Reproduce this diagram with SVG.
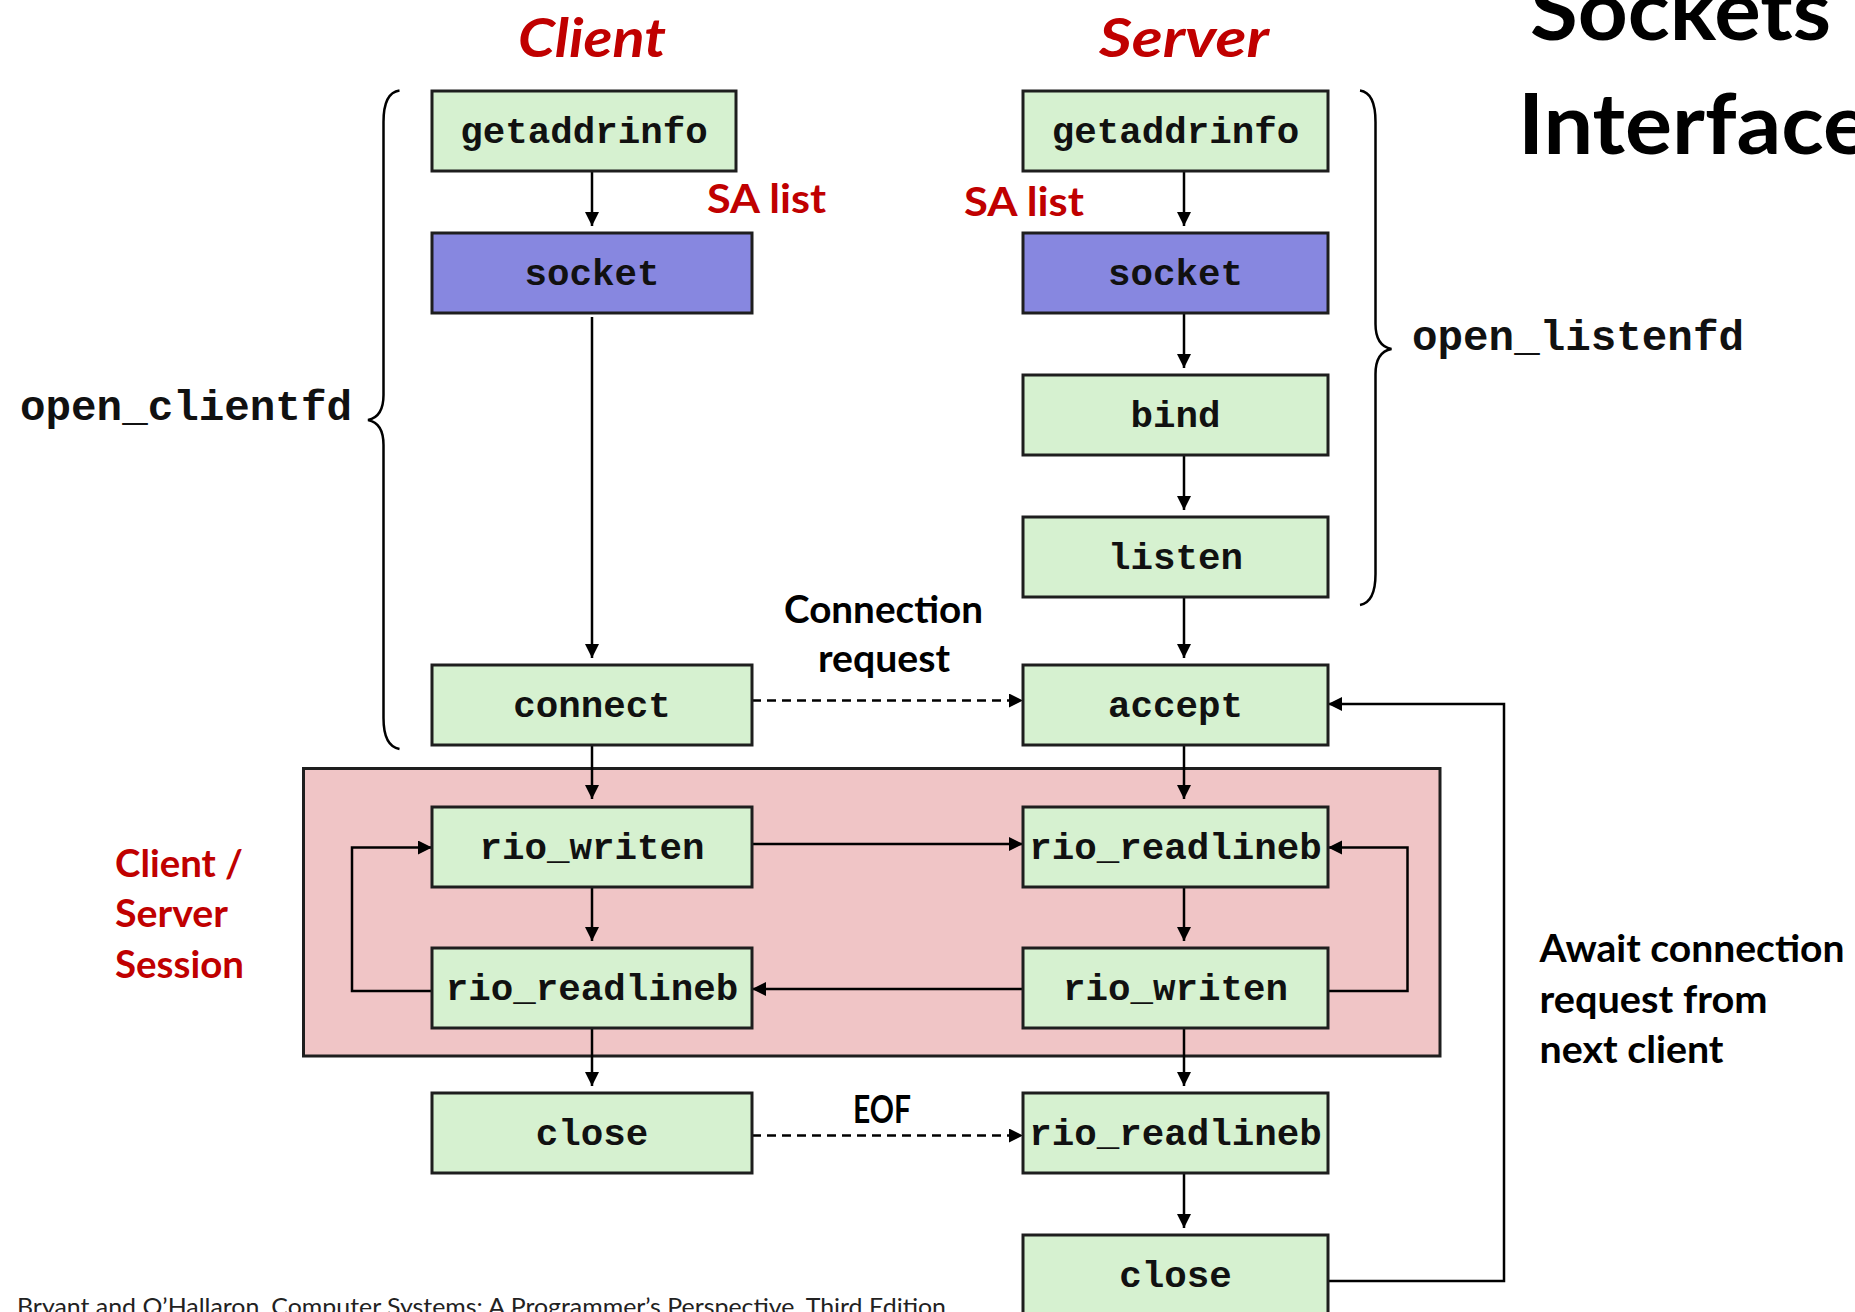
<svg xmlns="http://www.w3.org/2000/svg" width="1855" height="1312" viewBox="0 0 1855 1312">
<style>
.box{fill:#D6F1D0;stroke:#1E1E1E;stroke-width:3}
.sock{fill:#8787E0;stroke:#1E1E1E;stroke-width:3}
.code{font-family:"Liberation Mono","Courier New",monospace;font-weight:bold;font-size:37.5px;fill:#111;text-anchor:middle}
.big{font-family:"Liberation Mono","Courier New",monospace;font-weight:bold;font-size:43px;fill:#111}
.cal{font-family:Lato,"Open Sans","Liberation Sans",sans-serif;font-weight:bold}
.red{fill:#C00000}
.blk{fill:#000}
.ln{fill:none;stroke:#000;stroke-width:2.5}
.dash{stroke-dasharray:9 6}
.brace{fill:none;stroke:#000;stroke-width:2.5}
</style>
<defs>
<marker id="ah" markerUnits="userSpaceOnUse" markerWidth="15" markerHeight="15" refX="14" refY="7" orient="auto">
<path d="M0,0 L14,7 L0,14 z" fill="#000" stroke="none"/>
</marker>
</defs>
<rect width="1855" height="1312" fill="#fff"/>

<g id="session">
<rect x="303.5" y="768.5" width="1136.5" height="287.5" fill="#F0C5C6" stroke="#1E1E1E" stroke-width="3"/>
</g>

<g id="titles">
<text class="cal red" x="518" y="56.5" font-size="53" font-style="italic" textLength="148" lengthAdjust="spacingAndGlyphs">Client</text>
<text class="cal red" x="1099" y="56.5" font-size="53" font-style="italic" textLength="170" lengthAdjust="spacingAndGlyphs">Server</text>
<text class="cal blk" x="1530" y="39.5" font-size="84" textLength="301" lengthAdjust="spacingAndGlyphs">Sockets</text>
<text class="cal blk" x="1518" y="154" font-size="84" textLength="352" lengthAdjust="spacingAndGlyphs">Interface</text>
</g>

<g id="labels">
<text class="cal red" x="707" y="213" font-size="41" textLength="119" lengthAdjust="spacingAndGlyphs">SA list</text>
<text class="cal red" x="964" y="216" font-size="41" textLength="120" lengthAdjust="spacingAndGlyphs">SA list</text>
<text class="cal blk" x="784" y="623" font-size="38" textLength="199" lengthAdjust="spacingAndGlyphs">Connection</text>
<text class="cal blk" x="818" y="672" font-size="38" textLength="132" lengthAdjust="spacingAndGlyphs">request</text>
<text class="cal blk" x="853" y="1123" font-size="38" textLength="58" lengthAdjust="spacingAndGlyphs">EOF</text>
<text class="cal red" x="115" y="877" font-size="38" textLength="128" lengthAdjust="spacingAndGlyphs">Client /</text>
<text class="cal red" x="115" y="927" font-size="38" textLength="113" lengthAdjust="spacingAndGlyphs">Server</text>
<text class="cal red" x="115" y="978" font-size="38" textLength="129" lengthAdjust="spacingAndGlyphs">Session</text>
<text class="cal blk" x="1539.5" y="962" font-size="38" textLength="305" lengthAdjust="spacingAndGlyphs">Await connection</text>
<text class="cal blk" x="1539.5" y="1013" font-size="38" textLength="228" lengthAdjust="spacingAndGlyphs">request from</text>
<text class="cal blk" x="1539.5" y="1063" font-size="38" textLength="184" lengthAdjust="spacingAndGlyphs">next client</text>
<text class="big" x="20" y="420" textLength="332" lengthAdjust="spacingAndGlyphs">open_clientfd</text>
<text class="big" x="1412" y="350" textLength="332" lengthAdjust="spacingAndGlyphs">open_listenfd</text>
<text x="17" y="1315" font-family="Lato,'Open Sans','Liberation Sans',sans-serif" font-size="23" fill="#222" textLength="929" lengthAdjust="spacingAndGlyphs">Bryant and O’Hallaron, Computer Systems: A Programmer’s Perspective, Third Edition</text>
</g>

<g id="braces">
<path class="brace" d="M399.5,90.5 C388,92 383.5,104 383.5,122 L383.5,395 C383.5,410 378,418 368,420 C378,422 383.5,430 383.5,445 L383.5,718 C383.5,736 388,747 399.5,749"/>
<path class="brace" d="M1360,90.5 C1371,92 1375.5,104 1375.5,122 L1375.5,324 C1375.5,339 1381,347 1391.5,349 C1381,351 1375.5,359 1375.5,374 L1375.5,574 C1375.5,592 1371,603 1360,605"/>
</g>

<g id="connectors">
<path class="ln" d="M592,171 V226" marker-end="url(#ah)"/>
<path class="ln" d="M592,317 V658" marker-end="url(#ah)"/>
<path class="ln" d="M592,745 V799" marker-end="url(#ah)"/>
<path class="ln" d="M592,887 V941" marker-end="url(#ah)"/>
<path class="ln" d="M592,1028 V1086" marker-end="url(#ah)"/>
<path class="ln" d="M1184,171 V226" marker-end="url(#ah)"/>
<path class="ln" d="M1184,313 V368" marker-end="url(#ah)"/>
<path class="ln" d="M1184,455 V510" marker-end="url(#ah)"/>
<path class="ln" d="M1184,597 V658" marker-end="url(#ah)"/>
<path class="ln" d="M1184,745 V799" marker-end="url(#ah)"/>
<path class="ln" d="M1184,887 V941" marker-end="url(#ah)"/>
<path class="ln" d="M1184,1028 V1086" marker-end="url(#ah)"/>
<path class="ln" d="M1184,1173 V1228" marker-end="url(#ah)"/>
<path class="ln" d="M752,844 H1023" marker-end="url(#ah)"/>
<path class="ln" d="M1023,989 H752" marker-end="url(#ah)"/>
<path class="ln" d="M432,991 H352 V847.5 H432" marker-end="url(#ah)"/>
<path class="ln" d="M1328,991 H1407.5 V847.5 H1328" marker-end="url(#ah)"/>
<path class="ln dash" d="M752,700.5 H1023" marker-end="url(#ah)"/>
<path class="ln dash" d="M752,1135.5 H1023" marker-end="url(#ah)"/>
<path class="ln" d="M1328,1281 H1504 V704 H1328" marker-end="url(#ah)"/>
</g>

<g id="c-getaddrinfo"><rect class="box" x="432" y="91" width="304" height="80"/><text class="code" x="584" y="142.5">getaddrinfo</text></g>
<g id="c-socket"><rect class="sock" x="432" y="233" width="320" height="80"/><text class="code" x="592" y="284.5">socket</text></g>
<g id="c-connect"><rect class="box" x="432" y="665" width="320" height="80"/><text class="code" x="592" y="716.5">connect</text></g>
<g id="c-rio_writen"><rect class="box" x="432" y="807" width="320" height="80"/><text class="code" x="592" y="858.5">rio_writen</text></g>
<g id="c-rio_readlineb"><rect class="box" x="432" y="948" width="320" height="80"/><text class="code" x="592" y="999.5">rio_readlineb</text></g>
<g id="c-close"><rect class="box" x="432" y="1093" width="320" height="80"/><text class="code" x="592" y="1144.5">close</text></g>

<g id="s-getaddrinfo"><rect class="box" x="1023" y="91" width="305" height="80"/><text class="code" x="1175.5" y="142.5">getaddrinfo</text></g>
<g id="s-socket"><rect class="sock" x="1023" y="233" width="305" height="80"/><text class="code" x="1175.5" y="284.5">socket</text></g>
<g id="s-bind"><rect class="box" x="1023" y="375" width="305" height="80"/><text class="code" x="1175.5" y="426.5">bind</text></g>
<g id="s-listen"><rect class="box" x="1023" y="517" width="305" height="80"/><text class="code" x="1175.5" y="568.5">listen</text></g>
<g id="s-accept"><rect class="box" x="1023" y="665" width="305" height="80"/><text class="code" x="1175.5" y="716.5">accept</text></g>
<g id="s-rio_readlineb"><rect class="box" x="1023" y="807" width="305" height="80"/><text class="code" x="1175.5" y="858.5">rio_readlineb</text></g>
<g id="s-rio_writen"><rect class="box" x="1023" y="948" width="305" height="80"/><text class="code" x="1175.5" y="999.5">rio_writen</text></g>
<g id="s-rio_readlineb2"><rect class="box" x="1023" y="1093" width="305" height="80"/><text class="code" x="1175.5" y="1144.5">rio_readlineb</text></g>
<g id="s-close"><rect class="box" x="1023" y="1235" width="305" height="90"/><text class="code" x="1175.5" y="1286.5">close</text></g>
</svg>
